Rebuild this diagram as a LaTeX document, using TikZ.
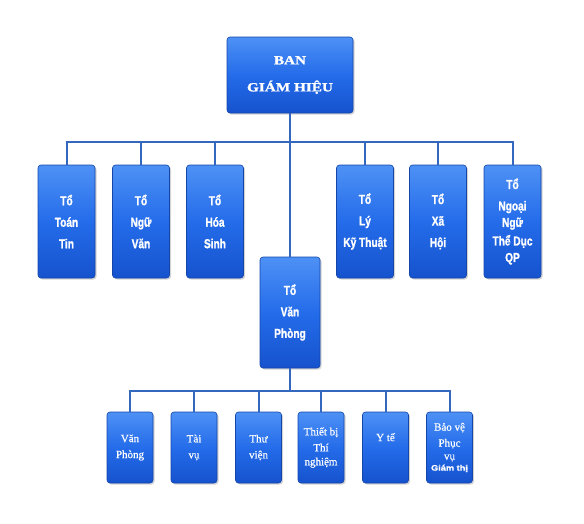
\documentclass[tikz,border=0pt]{standalone}
\usepackage{fontspec}
\usetikzlibrary{shadows}
\newfontfamily\deptfont[FakeStretch=0.78,FakeBold=1.2]{Liberation Sans Bold}
\newfontfamily\headfont[FakeStretch=1.22,FakeBold=1.5]{Liberation Serif Bold}
\newfontfamily\unitfont[FakeBold=0.6]{Liberation Serif}
\newfontfamily\tinyfont[FakeStretch=1.15,FakeBold=1]{Liberation Sans Bold}
\definecolor{linecol}{RGB}{52,104,190}
\definecolor{boxtop}{RGB}{78,145,245}
\definecolor{boxmid}{RGB}{36,108,234}
\definecolor{boxbot}{RGB}{22,82,205}
\definecolor{boxedge}{RGB}{20,70,170}
\tikzset{
  bluebox/.style={rectangle, rounded corners=3pt, draw=boxedge, line width=0.6pt,
    top color=boxtop, bottom color=boxbot, middle color=boxmid,
    text=white, align=center, inner sep=0pt,
    drop shadow={shadow xshift=1.5pt, shadow yshift=-1.5pt, opacity=0.35}},
  headbox/.style={bluebox, minimum width=126pt, minimum height=76pt,
    font=\headfont\fontsize{12.5}{27}\selectfont},
  deptbox/.style={bluebox, minimum width=57pt, minimum height=113pt,
    font=\deptfont\fontsize{13}{21.5}\selectfont},
  unitbox/.style={bluebox, minimum width=46pt, minimum height=71pt,
    font=\unitfont\fontsize{11}{16}\selectfont},
  conn/.style={draw=linecol, line width=2pt}
}
\begin{document}
\begin{tikzpicture}[x=1pt, y=-1pt]
\useasboundingbox (0,0) rectangle (584,523);
\coordinate (busA) at (290,142);
\coordinate (busB) at (290,391);
\node[headbox] (top) at (290,75) {BAN\\GIÁM HIỆU};
\node[deptbox] (d1) at (66.5,221.5) {Tổ\\Toán\\Tin};
\node[deptbox] (d2) at (141,221.5) {Tổ\\Ngữ\\Văn};
\node[deptbox] (d3) at (215,221.5) {Tổ\\Hóa\\Sinh};
\node[deptbox] (d4) at (365,221.5) {Tổ\\Lý\\Kỹ Thuật};
\node[deptbox] (d5) at (438,221.5) {Tổ\\Xã\\Hội};
\node[deptbox] (d6) at (512.5,221.5) {Tổ\\Ngoại\\[-5pt]Ngữ\\[-3pt]Thể Dục\\[-5pt]QP};
\node[deptbox, minimum width=60pt, minimum height=111pt] (vp) at (290,312.5) {Tổ\\Văn\\Phòng};
\node[unitbox] (u1) at (130,447.5) {Văn\\Phòng};
\node[unitbox] (u2) at (194,447.5) {Tài\\vụ};
\node[unitbox] (u3) at (258.5,447.5) {Thư\\viện};
\node[unitbox] (u4) at (321,447.5) {Thiết bị\\Thí\\[-2pt]nghiệm};
\node[unitbox] (u5) at (385.5,447.5) {Y tế\\ \strut};
\node[unitbox] (u6) at (449.5,447.5) {Bảo vệ\\Phục\\[-3pt]vụ\\[-5pt]{\tinyfont\fontsize{8}{9}\selectfont Giám thị}};
\draw[conn] (top.south) -- (vp.north);
\draw[conn] (d1.north) -- (d1.north |- busA) -- (d6.north |- busA) -- (d6.north);
\foreach \n in {d2,d3,d4,d5} \draw[conn] (\n.north) -- (\n.north |- busA);
\draw[conn] (vp.south) -- (busB);
\draw[conn] (u1.north) -- (u1.north |- busB) -- (u6.north |- busB) -- (u6.north);
\foreach \n in {u2,u3,u4,u5} \draw[conn] (\n.north) -- (\n.north |- busB);
\end{tikzpicture}
\end{document}
